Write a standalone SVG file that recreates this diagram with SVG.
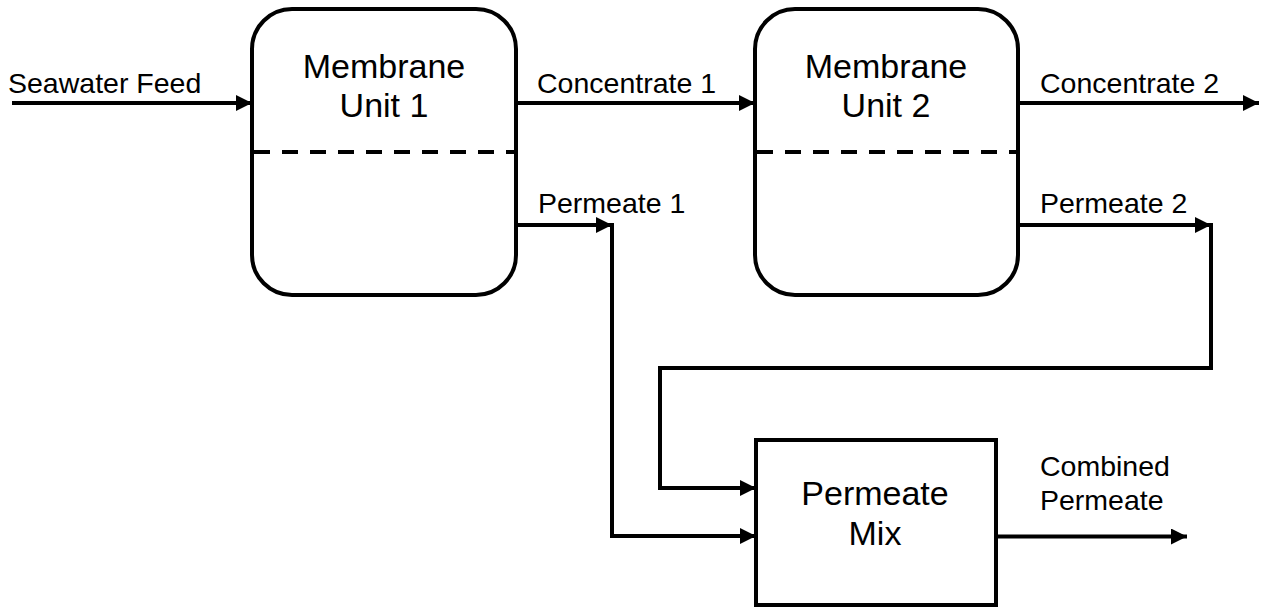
<svg xmlns="http://www.w3.org/2000/svg" width="1262" height="607" viewBox="0 0 1262 607">
  <style>
    .box { fill: #ffffff; stroke: #000000; stroke-width: 4; }
    .membrane { fill: none; stroke: #000000; stroke-width: 4; stroke-dasharray: 16 12; }
    .flow { fill: none; stroke: #000000; stroke-width: 4; stroke-linejoin: miter; }
    .arrow { marker-end: url(#head); }
    .label { font-family: "Liberation Sans", Arial, Helvetica, sans-serif; font-size: 28.5px; fill: #000000; }
    .title { font-family: "Liberation Sans", Arial, Helvetica, sans-serif; font-size: 34px; fill: #000000; text-anchor: middle; }
  </style>
  <defs>
    <marker id="head" markerUnits="userSpaceOnUse" markerWidth="17" markerHeight="16" refX="16" refY="8" orient="auto">
      <path d="M0,0 L16,8 L0,16 Z" fill="#000000"/>
    </marker>
  </defs>

  <rect width="1262" height="607" fill="#ffffff"/>

  <!-- process units -->
  <g id="membrane-unit-1">
    <rect class="box" x="252" y="9" width="264" height="286" rx="40" ry="40"/>
    <line class="membrane" x1="254" y1="152" x2="514" y2="152"/>
    <text class="title" x="384" y="78">Membrane</text>
    <text class="title" x="384" y="117">Unit 1</text>
  </g>

  <g id="membrane-unit-2">
    <rect class="box" x="755" y="9" width="263" height="286" rx="40" ry="40"/>
    <line class="membrane" x1="757" y1="152" x2="1016" y2="152"/>
    <text class="title" x="886" y="78">Membrane</text>
    <text class="title" x="886" y="117">Unit 2</text>
  </g>

  <g id="permeate-mix">
    <rect class="box" x="756" y="440" width="240" height="165"/>
    <text class="title" x="875" y="505">Permeate</text>
    <text class="title" x="875" y="545">Mix</text>
  </g>

  <!-- streams -->
  <g id="connectors">
    <line class="flow arrow" x1="12" y1="103" x2="252" y2="103"/>
    <line class="flow arrow" x1="516" y1="103" x2="755" y2="103"/>
    <line class="flow arrow" x1="1018" y1="103" x2="1259" y2="103"/>

    <line class="flow arrow" x1="516" y1="225" x2="612" y2="225"/>
    <polyline class="flow arrow" points="612,223 612,536 756,536"/>

    <line class="flow arrow" x1="1018" y1="225" x2="1211" y2="225"/>
    <polyline class="flow arrow" points="1211,223 1211,368 660,368 660,488 756,488"/>

    <line class="flow arrow" x1="996" y1="536.5" x2="1187" y2="536.5"/>
  </g>

  <!-- stream labels -->
  <g id="stream-labels">
    <text class="label" x="8" y="93">Seawater Feed</text>
    <text class="label" x="537" y="93">Concentrate 1</text>
    <text class="label" x="1040" y="93">Concentrate 2</text>
    <text class="label" x="538" y="213">Permeate 1</text>
    <text class="label" x="1040" y="213">Permeate 2</text>
    <text class="label" x="1040" y="476">Combined</text>
    <text class="label" x="1040" y="510">Permeate</text>
  </g>
</svg>
